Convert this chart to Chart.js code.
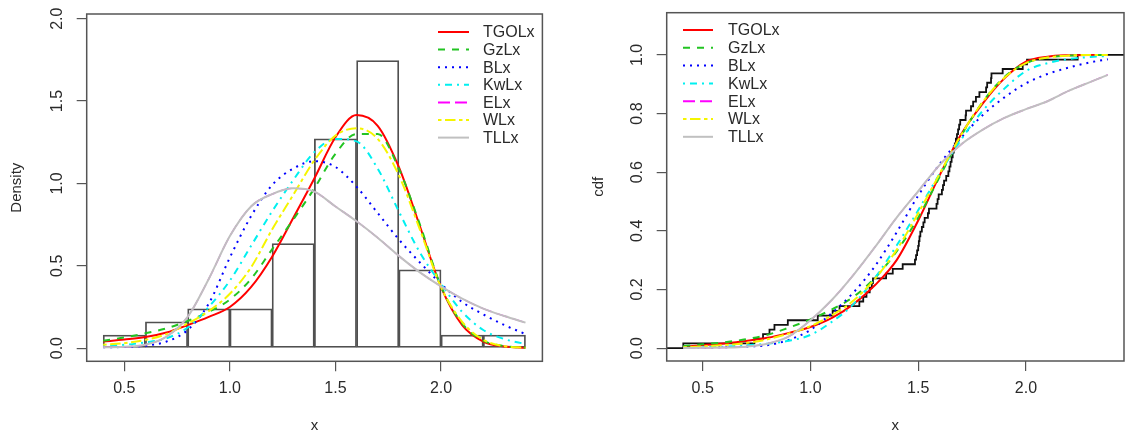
<!DOCTYPE html>
<html><head><meta charset="utf-8">
<script src="https://cdn.jsdelivr.net/npm/chart.js@4.4.1/dist/chart.umd.min.js"></script>
<style>
html,body{margin:0;padding:0;background:#fff;}
#wrap{position:relative;width:1125px;height:432px;overflow:hidden;background:#fff;}
canvas{position:absolute;top:0;}
#c1{left:0;} #c2{left:560px;}
</style></head><body>
<div id="wrap"><canvas id="c1" width="560" height="432"></canvas><canvas id="c2" width="565" height="432"></canvas></div>
<script>
// ---------------- data ----------------
const seriesNames = ["TGOLx", "GzLx", "BLx", "KwLx", "ELx", "WLx", "TLLx"];

// histogram (density scale), bins of width 0.2
const histMids    = [0.5, 0.7, 0.9, 1.1, 1.3, 1.5, 1.7, 1.9, 2.1, 2.3];
const histDensity = [0.079, 0.159, 0.238, 0.238, 0.635, 1.270, 1.746, 0.476, 0.079, 0.079];

// fitted densities
const densX   = [0.4,0.5,0.6,0.7,0.8,0.9,1.0,1.1,1.2,1.3,1.4,1.5,1.6,1.7,1.8,1.9,2.0,2.1,2.2,2.3,2.4];
const pdfTGOLx = [0.040,0.052,0.067,0.095,0.140,0.190,0.250,0.370,0.555,0.790,1.030,1.280,1.415,1.350,1.100,0.740,0.370,0.140,0.040,0.010,0.002];
const pdfGzLx  = [0.045,0.065,0.090,0.120,0.165,0.220,0.295,0.420,0.600,0.780,0.970,1.180,1.300,1.300,1.090,0.750,0.375,0.150,0.045,0.012,0.003];
const pdfBLx   = [0.005,0.007,0.015,0.040,0.110,0.270,0.550,0.800,0.990,1.090,1.135,1.100,0.980,0.820,0.660,0.520,0.390,0.280,0.205,0.140,0.085];
const pdfKwLx  = [0.012,0.020,0.035,0.060,0.125,0.250,0.410,0.620,0.830,1.020,1.190,1.270,1.255,1.090,0.830,0.580,0.390,0.220,0.110,0.055,0.025];
const pdfELx   = [0.005,0.008,0.020,0.070,0.190,0.420,0.680,0.860,0.935,0.970,0.950,0.860,0.770,0.670,0.560,0.460,0.375,0.300,0.240,0.195,0.155];
const pdfWLx   = [0.020,0.030,0.050,0.085,0.150,0.225,0.330,0.490,0.720,0.930,1.140,1.290,1.335,1.270,1.050,0.720,0.370,0.160,0.050,0.012,0.003];
const pdfTLLx  = [0.005,0.008,0.020,0.070,0.190,0.420,0.680,0.860,0.935,0.970,0.950,0.860,0.770,0.670,0.560,0.460,0.375,0.300,0.240,0.195,0.155];

// fitted cdfs
const cdfX     = [0.41,0.5,0.6,0.7,0.8,0.9,1.0,1.1,1.2,1.3,1.4,1.5,1.6,1.7,1.8,1.9,2.0,2.1,2.2,2.3,2.38];
const cdfTGOLx = [0.005,0.010,0.016,0.024,0.035,0.052,0.072,0.103,0.150,0.215,0.300,0.435,0.590,0.730,0.835,0.920,0.977,0.994,0.999,1.000,1.000];
const cdfGzLx  = [0.007,0.013,0.020,0.030,0.045,0.070,0.098,0.132,0.175,0.240,0.330,0.445,0.585,0.725,0.840,0.925,0.972,0.991,0.998,1.000,1.000];
const cdfBLx   = [0.001,0.002,0.003,0.005,0.010,0.028,0.062,0.120,0.190,0.280,0.395,0.520,0.628,0.718,0.795,0.855,0.903,0.935,0.957,0.975,0.985];
const cdfKwLx  = [0.002,0.003,0.005,0.009,0.015,0.025,0.045,0.090,0.150,0.240,0.350,0.470,0.595,0.712,0.810,0.885,0.945,0.972,0.986,0.993,0.996];
const cdfELx   = [0.000,0.001,0.002,0.005,0.015,0.040,0.095,0.165,0.250,0.345,0.445,0.535,0.625,0.695,0.745,0.785,0.815,0.842,0.878,0.908,0.932];
const cdfWLx   = [0.003,0.006,0.010,0.017,0.030,0.050,0.075,0.112,0.162,0.237,0.335,0.460,0.595,0.728,0.840,0.922,0.972,0.991,0.998,1.000,1.000];
const cdfTLLx  = [0.000,0.001,0.002,0.005,0.015,0.040,0.095,0.165,0.250,0.345,0.445,0.535,0.625,0.695,0.745,0.785,0.815,0.842,0.878,0.908,0.932];

// empirical cdf: jump locations and levels
const ecdfX = [0.41,0.74,0.78,0.81,0.833,0.895,1.034,1.103,1.135,1.227,1.245,1.26,1.275,1.285,1.29,1.351,1.382,1.428,1.485,1.49,1.495,1.50,1.503,1.506,1.51,1.517,1.524,1.53,1.545,1.55,1.585,1.59,1.595,1.61,1.615,1.62,1.63,1.64,1.645,1.65,1.655,1.66,1.665,1.67,1.675,1.68,1.685,1.69,1.695,1.72,1.722,1.745,1.755,1.768,1.784,1.815,1.82,1.838,1.84,1.892,1.985,2.005,2.24];
const ecdfF = [0.016,0.032,0.048,0.063,0.079,0.095,0.111,0.127,0.143,0.159,0.175,0.190,0.206,0.222,0.238,0.254,0.270,0.286,0.302,0.317,0.333,0.349,0.365,0.381,0.397,0.413,0.429,0.444,0.460,0.476,0.492,0.508,0.524,0.540,0.556,0.571,0.587,0.603,0.619,0.635,0.651,0.667,0.683,0.698,0.714,0.730,0.746,0.762,0.778,0.794,0.810,0.825,0.841,0.857,0.873,0.889,0.905,0.921,0.937,0.952,0.968,0.984,1.000];

// tick values
const densXTicks = [0.5, 1.0, 1.5, 2.0];
const densYTicks = [0.0, 0.5, 1.0, 1.5, 2.0];
const cdfXTicks  = [0.5, 1.0, 1.5, 2.0];
const cdfYTicks  = [0.0, 0.2, 0.4, 0.6, 0.8, 1.0];

// ---------------- styling ----------------
const FONT = "'Liberation Sans', Arial, sans-serif";
const TXT = '#2a2a2a';
const AX = '#555';
const styles = {
  TGOLx: {color: '#ff0000', dash: [], width: 2},
  GzLx:  {color: '#22c422', dash: [7, 7], width: 2},
  BLx:   {color: '#0000ff', dash: [2, 5], width: 2},
  KwLx:  {color: '#00f0f0', dash: [2, 5, 7, 5], width: 2},
  ELx:   {color: '#ff00ff', dash: [12, 5], width: 1.4},
  WLx:   {color: '#f5f500', dash: [3.5, 3.5, 10.5, 3.5], width: 2},
  TLLx:  {color: '#c0c0c0', dash: [], width: 2}
};
const drawOrder = {TGOLx: 7, GzLx: 6, BLx: 5, KwLx: 4, ELx: 3, WLx: 2, TLLx: 1};

const pdfData = {TGOLx: pdfTGOLx, GzLx: pdfGzLx, BLx: pdfBLx, KwLx: pdfKwLx, ELx: pdfELx, WLx: pdfWLx, TLLx: pdfTLLx};
const cdfData = {TGOLx: cdfTGOLx, GzLx: cdfGzLx, BLx: cdfBLx, KwLx: cdfKwLx, ELx: cdfELx, WLx: cdfWLx, TLLx: cdfTLLx};

function curveSets(xs, table) {
  return seriesNames.map(n => ({
    type: 'line',
    label: n,
    inLegend: true,
    data: xs.map((x, i) => ({x: x, y: table[n][i]})),
    borderColor: styles[n].color,
    borderDash: styles[n].dash,
    borderWidth: styles[n].width,
    pointRadius: 0,
    fill: false,
    cubicInterpolationMode: 'monotone',
    order: drawOrder[n]
  }));
}

const framePlugin = {
  id: 'frame',
  afterDraw(chart, args, o) {
    const ctx = chart.ctx, a = chart.chartArea;
    ctx.save();
    ctx.strokeStyle = AX; ctx.lineWidth = 1.5;
    ctx.strokeRect(a.left, a.top, a.right - a.left, a.bottom - a.top);
    // rotated y tick labels (R style, las = 0)
    const ys = chart.scales.y;
    ctx.fillStyle = TXT; ctx.font = o.tickFont; ctx.textAlign = 'center'; ctx.textBaseline = 'middle';
    ys.ticks.forEach((t, i) => {
      const py = ys.getPixelForTick(i);
      ctx.save(); ctx.translate(a.left - o.labelOffset, py); ctx.rotate(-Math.PI / 2);
      ctx.fillText(t.label, 0, 1); ctx.restore();
    });
    // legend
    const L = o.legend;
    let row = 0;
    chart.data.datasets.forEach(ds => {
      if (!ds.inLegend) return;
      const y = L.y0 + row * L.dy;
      ctx.save();
      ctx.strokeStyle = ds.borderColor; ctx.lineWidth = 2; ctx.setLineDash(ds.borderDash || []);
      ctx.beginPath(); ctx.moveTo(L.x1, y); ctx.lineTo(L.x2, y); ctx.stroke();
      ctx.restore();
      ctx.fillStyle = TXT; ctx.font = o.legendFont; ctx.textAlign = 'left'; ctx.textBaseline = 'middle';
      ctx.fillText(ds.label, L.tx, y + 1);
      row++;
    });
    ctx.restore();
  }
};

function fixedTicks(arr) {
  return s => { s.ticks = arr.map(v => ({value: v})); };
}

function makeOptions(cfg) {
  return {
    responsive: false, animation: false, devicePixelRatio: 1,
    layout: {padding: {top: cfg.padTop, right: cfg.padRight, left: 0, bottom: 0}},
    plugins: {
      legend: {display: false}, tooltip: {enabled: false},
      frame: {tickFont: '16px ' + FONT, legendFont: '16px ' + FONT, labelOffset: 30, legend: cfg.legend}
    },
    scales: {
      x: {
        type: 'linear', min: cfg.xMin, max: cfg.xMax, offset: false,
        afterBuildTicks: fixedTicks(cfg.xTicks),
        afterFit: s => { s.height = cfg.xHeight; },
        grid: {drawOnChartArea: false, drawTicks: true, tickLength: 10, color: AX, lineWidth: 1.2, offset: false},
        border: {display: false},
        ticks: {autoSkip: false, maxRotation: 0, minRotation: 0, padding: 8, color: TXT,
                font: {family: FONT, size: 16}, callback: v => Number(v).toFixed(1)},
        title: {display: true, text: 'x', color: TXT, font: {family: FONT, size: 15, lineHeight: 0.875}, padding: {top: 0, bottom: 0}}
      },
      y: {
        type: 'linear', min: cfg.yMin, max: cfg.yMax,
        afterBuildTicks: fixedTicks(cfg.yTicks),
        afterFit: s => { s.width = cfg.yWidth; },
        grid: {drawOnChartArea: false, drawTicks: true, tickLength: 10, color: AX, lineWidth: 1.2},
        border: {display: false},
        ticks: {display: false, callback: v => Number(v).toFixed(1)},
        title: {display: true, text: cfg.yTitle, color: TXT, font: {family: FONT, size: 15, lineHeight: 1.2}, padding: {top: cfg.yTitlePad, bottom: 0}}
      }
    }
  };
}

// ---------------- left: histogram + densities ----------------
const leftSets = curveSets(densX, pdfData);
leftSets.push({
  type: 'bar', label: 'hist', inLegend: false,
  data: histMids.map((m, i) => ({x: m, y: histDensity[i]})),
  backgroundColor: 'rgba(255,255,255,0)', borderColor: '#505050', borderWidth: 1.1,
  borderSkipped: false, barPercentage: 1, categoryPercentage: 1, grouped: false, order: 20
});

new Chart(document.getElementById('c1'), {
  type: 'line',
  data: {datasets: leftSets},
  options: makeOptions({
    xMin: 0.322, xMax: 2.48, yMin: -0.08, yMax: 2.0285,
    xTicks: densXTicks, yTicks: densYTicks,
    padTop: 14, padRight: 17.6, yWidth: 86.7, xHeight: 70.7,
    yTitle: 'Density', yTitlePad: 8,
    legend: {x1: 438, x2: 469, tx: 483, y0: 32, dy: 17.6}
  }),
  plugins: [framePlugin]
});

// ---------------- right: ecdf + cdfs ----------------
const cdfXMin = 0.333, cdfXMax = 2.455;
const rightSets = curveSets(cdfX, cdfData);
const ecdfPts = [{x: cdfXMin, y: 0}].concat(ecdfX.map((x, i) => ({x: x, y: ecdfF[i]})));
ecdfPts.push({x: cdfXMax, y: ecdfF[ecdfF.length - 1]});
rightSets.push({
  type: 'line', label: 'ecdf', inLegend: false,
  data: ecdfPts, stepped: 'before',
  borderColor: '#111', borderWidth: 1.8, pointRadius: 0, fill: false, order: 20
});

new Chart(document.getElementById('c2'), {
  type: 'line',
  data: {datasets: rightSets},
  options: makeOptions({
    xMin: cdfXMin, xMax: cdfXMax, yMin: -0.044, yMax: 1.144,
    xTicks: cdfXTicks, yTicks: cdfYTicks,
    padTop: 12.7, padRight: 1, yWidth: 106.7, xHeight: 71,
    yTitle: 'cdf', yTitlePad: 30,
    legend: {x1: 123, x2: 153, tx: 168, y0: 30, dy: 17.8}
  }),
  plugins: [framePlugin]
});
</script>
</body></html>
